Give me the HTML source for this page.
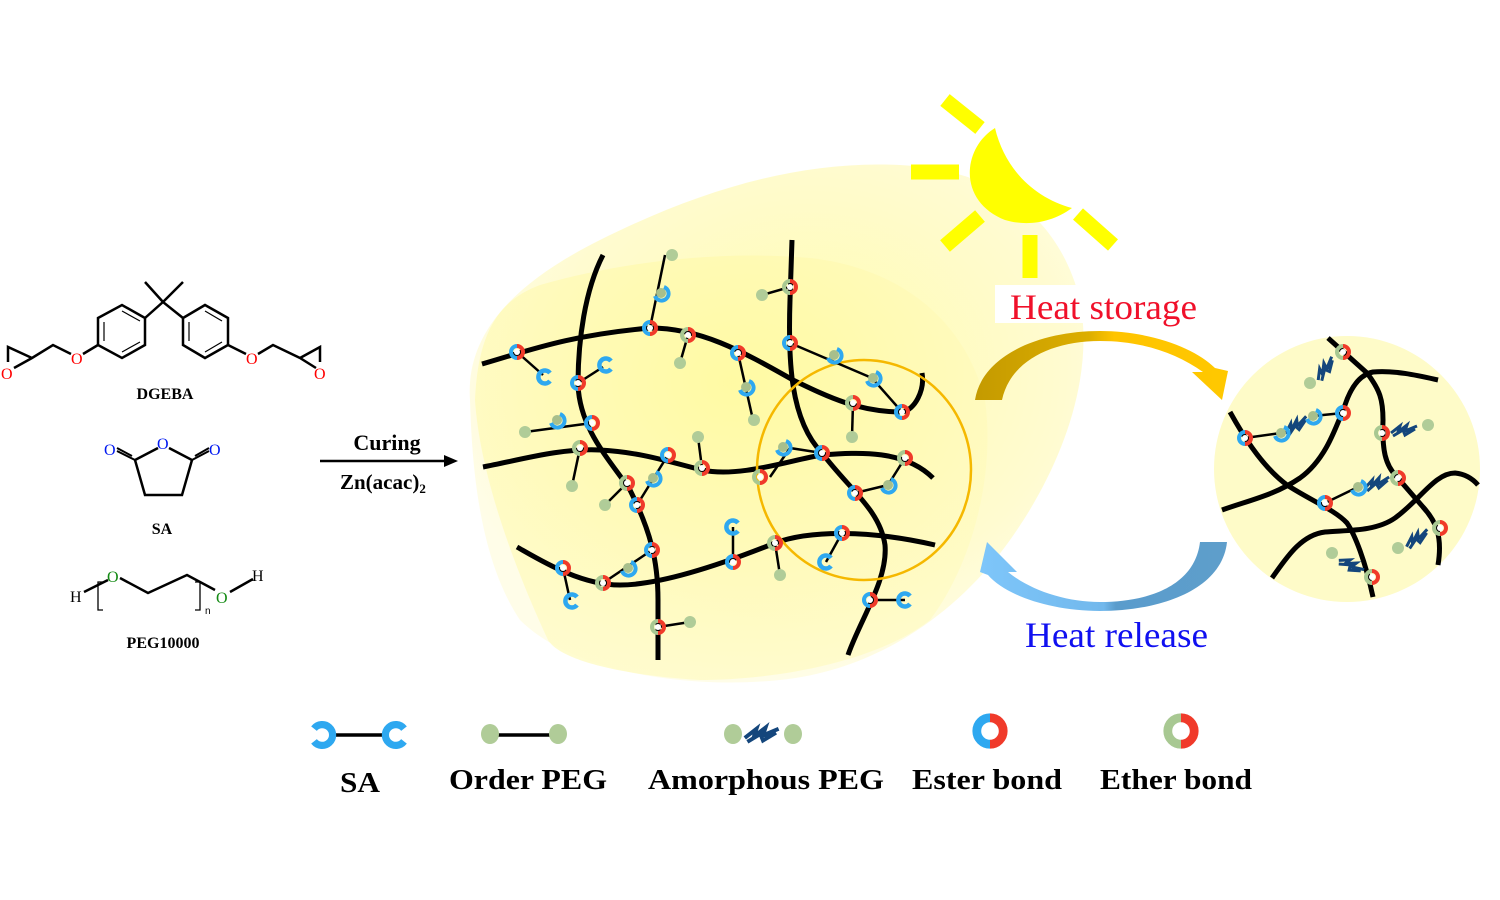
<!DOCTYPE html>
<html><head><meta charset="utf-8"><style>
html,body{margin:0;padding:0;background:#fff;width:1500px;height:900px;overflow:hidden}
svg{display:block}
.t{font-family:"Liberation Serif",serif}
</style></head><body>
<svg width="1500" height="900" viewBox="0 0 1500 900" xmlns="http://www.w3.org/2000/svg">
<defs>
<radialGradient id="blob" cx="0.55" cy="0.4" r="0.6">
<stop offset="0" stop-color="#fffcb0"/><stop offset="0.7" stop-color="#fffbd0"/><stop offset="1" stop-color="#fffde8"/>
</radialGradient>
<radialGradient id="inner" cx="0.5" cy="0.3" r="0.7">
<stop offset="0" stop-color="#fff9a0"/><stop offset="1" stop-color="#fffbc8"/>
</radialGradient>
<linearGradient id="gold" x1="0" x2="1" y1="0" y2="0"><stop offset="0" stop-color="#c49a00"/><stop offset="0.45" stop-color="#dcae00"/><stop offset="0.55" stop-color="#ffc400"/><stop offset="1" stop-color="#ffc800"/></linearGradient>
<linearGradient id="blue" x1="0" x2="1" y1="0" y2="0"><stop offset="0" stop-color="#7ec6fa"/><stop offset="0.5" stop-color="#72b8ec"/><stop offset="0.55" stop-color="#5a9ccc"/><stop offset="1" stop-color="#5e9ecb"/></linearGradient>
<g id="es"><path d="M0,-6A6,6 0 0 0 0,6" fill="none" stroke="#2ea8f0" stroke-width="4"/><path d="M0,-6A6,6 0 0 1 0,6" fill="none" stroke="#f03a2a" stroke-width="4"/><circle r="3" fill="#fff"/></g>
<g id="et"><path d="M0,-6A6,6 0 0 0 0,6" fill="none" stroke="#a8c892" stroke-width="4"/><path d="M0,-6A6,6 0 0 1 0,6" fill="none" stroke="#f03a2a" stroke-width="4"/><circle r="3" fill="#fff"/></g>
<g id="sa"><path d="M5,-4A6.5,6.5 0 1 0 5,4" fill="none" stroke="#2ea8f0" stroke-width="4.5"/></g>
<g id="sg"><circle r="5" fill="#a8bf8c"/><path d="M3,-6A7,7 0 1 1 -6,3" fill="none" stroke="#2ea8f0" stroke-width="4"/></g>
<g id="dt"><circle r="6" fill="#b0cc98"/></g>
<g id="am"><path d="M-14,3 L-5,-4 L-7,2 L2,-5 L0,1 L12,-4 M-12,6 L-2,0 L0,5 L10,-1 M-8,-1 L6,2" fill="none" stroke="#14467c" stroke-width="3"/></g>
</defs>

<path d="M470,400 C465,330 520,280 600,240 C700,190 800,160 900,165 C1000,170 1060,220 1080,300 C1095,380 1060,470 1010,540 C960,610 880,670 780,680 C680,690 570,670 520,620 C480,560 472,470 470,400Z" fill="url(#blob)"/>
<path d="M475,400 C478,330 500,300 540,285 C620,262 720,250 810,258 C900,268 965,320 985,400 C995,470 975,560 930,620 C880,660 780,680 700,680 C620,675 560,660 548,640 C520,580 480,480 475,400Z" fill="url(#inner)" opacity="0.85"/>

<path d="M995,128 C1005,170 1035,198 1072,208 C1050,224 1025,226 1005,220 C980,210 968,190 970,168 C972,150 982,136 995,128Z" fill="#ffff00"/>
<g stroke="#ffff00" stroke-width="15" stroke-linecap="butt">
<line x1="945" y1="100" x2="980" y2="128"/>
<line x1="911" y1="172" x2="959" y2="172"/>
<line x1="945" y1="246" x2="980" y2="216"/>
<line x1="1030" y1="235" x2="1030" y2="278"/>
<line x1="1078" y1="214" x2="1113" y2="245"/>
</g>

<rect x="995" y="285" width="200" height="38" fill="#fff"/>
<text x="1010" y="319" class="t" font-size="36" fill="#f0102a" textLength="187" lengthAdjust="spacingAndGlyphs">Heat storage</text>
<path d="M975,400 C982,355 1040,331 1100,331 C1150,331 1195,348 1215,368 L1228,371 L1222,400 L1192,372 L1203,372 C1175,352 1140,341 1100,341 C1050,341 1010,362 1002,400 Z" fill="url(#gold)"/>
<path d="M1227,542 C1222,590 1160,611 1100,611 C1050,611 1005,595 988,575 L980,572 L987,542 L1017,572 L1008,572 C1030,590 1065,602 1100,602 C1150,602 1195,585 1200,542 Z" fill="url(#blue)"/>
<text x="1025" y="647" class="t" font-size="36" fill="#1010f0" textLength="183" lengthAdjust="spacingAndGlyphs">Heat release</text>

<g fill="none" stroke="#000" stroke-width="5" stroke-linecap="butt">
<path d="M482,364 C530,350 570,335 650,328 C700,328 740,350 793,380 C830,398 860,412 902,412 C915,410 925,390 922,373"/>
<path d="M483,467 C520,460 560,448 600,450 C640,452 670,462 702,470 C740,478 790,460 822,455 C860,452 905,450 933,478"/>
<path d="M517,547 C540,560 580,585 620,585 C660,585 720,565 775,543 C810,530 870,530 935,545"/>
<path d="M603,255 C585,290 578,340 578,385 C580,430 610,460 630,490 C650,530 658,560 658,600 L658,660"/>
<path d="M792,240 L790,300 C788,360 790,420 822,453 C850,490 880,510 885,545 C888,580 860,620 848,655"/>
</g>
<ellipse cx="864" cy="470" rx="107" ry="110" fill="none" stroke="#f5b800" stroke-width="2.5"/>
<g stroke="#000" stroke-width="2.5">
<line x1="517" y1="352" x2="543" y2="375"/>
<line x1="578" y1="383" x2="603" y2="367"/>
<line x1="592" y1="423" x2="525" y2="432"/>
<line x1="650" y1="328" x2="665" y2="255"/>
<line x1="688" y1="335" x2="680" y2="363"/>
<line x1="738" y1="353" x2="753" y2="420"/>
<line x1="790" y1="287" x2="762" y2="295"/>
<line x1="790" y1="343" x2="872" y2="378"/>
<line x1="872" y1="378" x2="902" y2="412"/>
<line x1="853" y1="403" x2="852" y2="437"/>
<line x1="580" y1="448" x2="572" y2="486"/>
<line x1="668" y1="455" x2="637" y2="505"/>
<line x1="702" y1="468" x2="698" y2="437"/>
<line x1="627" y1="483" x2="605" y2="505"/>
<line x1="770" y1="477" x2="790" y2="448"/>
<line x1="790" y1="448" x2="822" y2="453"/>
<line x1="905" y1="458" x2="888" y2="485"/>
<line x1="888" y1="485" x2="855" y2="493"/>
<line x1="563" y1="568" x2="570" y2="600"/>
<line x1="652" y1="550" x2="603" y2="583"/>
<line x1="733" y1="562" x2="733" y2="527"/>
<line x1="775" y1="543" x2="780" y2="575"/>
<line x1="842" y1="533" x2="826" y2="562"/>
<line x1="870" y1="600" x2="905" y2="600"/>
<line x1="658" y1="627" x2="690" y2="622"/>
</g>
<use href="#sa" x="545" y="377"/><use href="#sa" x="606" y="365"/>
<use href="#sg" x="557" y="420"/><use href="#dt" x="525" y="432"/>
<use href="#sg" x="661" y="293"/><use href="#dt" x="672" y="255"/>
<use href="#dt" x="680" y="363"/>
<use href="#sg" x="746" y="387"/><use href="#dt" x="754" y="420"/>
<use href="#dt" x="762" y="295"/>
<use href="#sg" x="834" y="355"/><use href="#sg" x="873" y="378"/>
<use href="#dt" x="852" y="437"/>
<use href="#dt" x="572" y="486"/>
<use href="#sg" x="653" y="478"/>
<use href="#dt" x="698" y="437"/>
<use href="#dt" x="605" y="505"/>
<use href="#sg" x="783" y="447"/>
<use href="#sg" x="888" y="485"/>
<use href="#sa" x="572" y="601"/>
<use href="#sg" x="628" y="568"/>
<use href="#sa" x="733" y="527"/>
<use href="#dt" x="780" y="575"/>
<use href="#sa" x="826" y="562"/>
<use href="#sa" x="905" y="600"/>
<use href="#dt" x="690" y="622"/>
<use href="#es" x="517" y="352"/><use href="#es" x="578" y="383"/><use href="#es" x="592" y="423"/>
<use href="#es" x="650" y="328"/><use href="#et" x="688" y="335"/><use href="#es" x="738" y="353"/>
<use href="#et" x="790" y="287"/><use href="#es" x="790" y="343"/><use href="#et" x="853" y="403"/>
<use href="#es" x="902" y="412"/><use href="#et" x="580" y="448"/><use href="#es" x="668" y="455"/>
<use href="#et" x="702" y="468"/><use href="#et" x="760" y="477"/><use href="#es" x="822" y="453"/>
<use href="#et" x="905" y="458"/><use href="#et" x="627" y="483"/><use href="#es" x="637" y="505"/>
<use href="#es" x="652" y="550"/><use href="#es" x="563" y="568"/><use href="#et" x="603" y="583"/>
<use href="#es" x="733" y="562"/><use href="#et" x="775" y="543"/><use href="#es" x="842" y="533"/>
<use href="#es" x="855" y="493"/><use href="#es" x="870" y="600"/><use href="#et" x="658" y="627"/>

<circle cx="1347" cy="469" r="133" fill="#fefbc8"/>
<g fill="none" stroke="#000" stroke-width="5">
<path d="M1328,338 L1367,373 C1380,390 1383,400 1383,420 C1382,450 1385,465 1397,477 L1423,507 C1435,520 1443,535 1438,565"/>
<path d="M1230,412 C1240,430 1260,465 1287,485 C1310,500 1335,510 1347,523 C1355,535 1365,560 1373,597"/>
<path d="M1222,510 C1250,500 1275,495 1300,478 C1325,460 1335,430 1345,405 C1350,390 1358,375 1373,372 C1395,370 1420,376 1438,380"/>
<path d="M1272,578 C1285,560 1300,535 1325,532 C1345,530 1375,532 1395,518 C1420,500 1435,473 1455,473 C1465,474 1472,478 1478,485"/>
</g>
<g stroke="#000" stroke-width="2.5">
<line x1="1245" y1="438" x2="1281" y2="433"/><line x1="1313" y1="416" x2="1343" y2="413"/>
<line x1="1325" y1="503" x2="1358" y2="487"/>
</g>
<use href="#am" x="1326" y="368" transform="rotate(-45 1326 368)"/><use href="#dt" x="1310" y="383"/>
<use href="#am" x="1297" y="425" transform="rotate(-25 1297 425)"/>
<use href="#am" x="1405" y="430"/><use href="#dt" x="1428" y="425"/>
<use href="#am" x="1378" y="483" transform="rotate(-10 1378 483)"/>
<use href="#am" x="1418" y="538" transform="rotate(-25 1418 538)"/><use href="#dt" x="1398" y="548"/>
<use href="#am" x="1352" y="566" transform="rotate(35 1352 566)"/><use href="#dt" x="1332" y="553"/>
<use href="#sg" x="1281" y="433"/><use href="#sg" x="1313" y="416"/><use href="#sg" x="1358" y="487"/>
<use href="#et" x="1343" y="352"/><use href="#es" x="1245" y="438"/><use href="#es" x="1343" y="413"/>
<use href="#et" x="1382" y="433"/><use href="#et" x="1398" y="478"/><use href="#es" x="1325" y="503"/>
<use href="#et" x="1440" y="528"/><use href="#et" x="1372" y="577"/>

<line x1="320" y1="461" x2="448" y2="461" stroke="#000" stroke-width="2.5"/>
<path d="M458,461 L444,455 L444,467Z" fill="#000"/>
<text x="387" y="450" class="t" font-size="22" font-weight="bold" text-anchor="middle">Curing</text>
<text x="340" y="489" class="t" font-size="21" font-weight="bold">Zn(acac)<tspan font-size="13" dy="4">2</tspan></text>

<g stroke="#000" stroke-width="2.5" fill="none">
<path d="M98,318 L122,305 L145,318 L145,345 L122,358 L98,345 Z"/>
<path d="M104,322 L104,341 M122,311 L140,321 M122,352 L140,342" stroke-width="1.2"/>
<path d="M183,318 L205,305 L228,318 L228,345 L205,358 L183,345 Z"/>
<path d="M189,322 L189,341 M205,311 L222,321 M205,352 L222,342" stroke-width="1.2"/>
<path d="M145,318 L163,302 L183,318 M163,302 L145,282 M163,302 L183,282"/>
<path d="M98,345 L83,354 M71,354 L53,345 L32,358 L14,368 M32,358 L8,347 L8,362"/>
<path d="M228,345 L246,354 M258,354 L273,345 L300,358 L316,368 M300,358 L320,347 L320,362"/>
</g>
<g class="t" font-size="16" fill="#f00">
<text x="1" y="379">O</text><text x="71" y="364">O</text><text x="246" y="364">O</text><text x="314" y="379">O</text>
</g>
<text x="165" y="399" class="t" font-size="16" font-weight="bold" text-anchor="middle">DGEBA</text>

<g stroke="#000" stroke-width="2.5" fill="none">
<path d="M158,448 L135,460 L145,495 L182,495 L192,460 L169,448"/>
<path d="M135,460 L117,451 M132,456 L117,448" stroke-width="2"/>
<path d="M192,460 L209,451 M195,456 L209,448" stroke-width="2"/>
</g>
<g class="t" font-size="16" fill="#0018f0">
<text x="157" y="449">O</text><text x="104" y="455">O</text><text x="209" y="455">O</text>
</g>
<text x="162" y="534" class="t" font-size="16" font-weight="bold" text-anchor="middle">SA</text>

<g stroke="#000" stroke-width="2.5" fill="none">
<path d="M84,592 L108,580"/>
<path d="M120,578 L148,593 L187,575 L215,590"/>
<path d="M230,592 L253,579"/>
<path d="M103,582 L98,582 L98,610 L103,610" stroke-width="1.3"/>
<path d="M195,582 L200,582 L200,610 L195,610" stroke-width="1.3"/>
</g>
<text x="70" y="602" class="t" font-size="16">H</text>
<text x="107" y="582" class="t" font-size="16" fill="#138a13">O</text>
<text x="216" y="603" class="t" font-size="16" fill="#138a13">O</text>
<text x="252" y="581" class="t" font-size="16">H</text>
<text x="205" y="614" font-family="Liberation Sans,sans-serif" font-size="10">n</text>
<text x="163" y="648" class="t" font-size="16" font-weight="bold" text-anchor="middle">PEG10000</text>

<line x1="331" y1="735" x2="387" y2="735" stroke="#000" stroke-width="3.5"/>
<g transform="translate(322,735) scale(1.6) rotate(180)"><use href="#sa"/></g>
<g transform="translate(396,735) scale(1.6)"><use href="#sa"/></g>
<line x1="490" y1="735" x2="558" y2="735" stroke="#000" stroke-width="3.5"/>
<ellipse cx="490" cy="734" rx="9" ry="10" fill="#b0cc98"/><ellipse cx="558" cy="734" rx="9" ry="10" fill="#b0cc98"/>
<ellipse cx="733" cy="734" rx="9" ry="10" fill="#b0cc98"/><ellipse cx="793" cy="734" rx="9" ry="10" fill="#b0cc98"/>
<g transform="translate(763,734) scale(1.3)"><use href="#am"/></g>
<g transform="translate(990,731) scale(2.2)"><use href="#es"/></g>
<g transform="translate(1181,731) scale(2.2)"><use href="#et"/></g>
<g class="t" font-size="29" font-weight="bold">
<text x="340" y="792" textLength="40" lengthAdjust="spacingAndGlyphs">SA</text>
<text x="449" y="789" textLength="158" lengthAdjust="spacingAndGlyphs">Order PEG</text>
<text x="648" y="789" textLength="236" lengthAdjust="spacingAndGlyphs">Amorphous  PEG</text>
<text x="912" y="789" textLength="150" lengthAdjust="spacingAndGlyphs">Ester bond</text>
<text x="1100" y="789" textLength="152" lengthAdjust="spacingAndGlyphs">Ether bond</text>
</g>
</svg>
</body></html>
